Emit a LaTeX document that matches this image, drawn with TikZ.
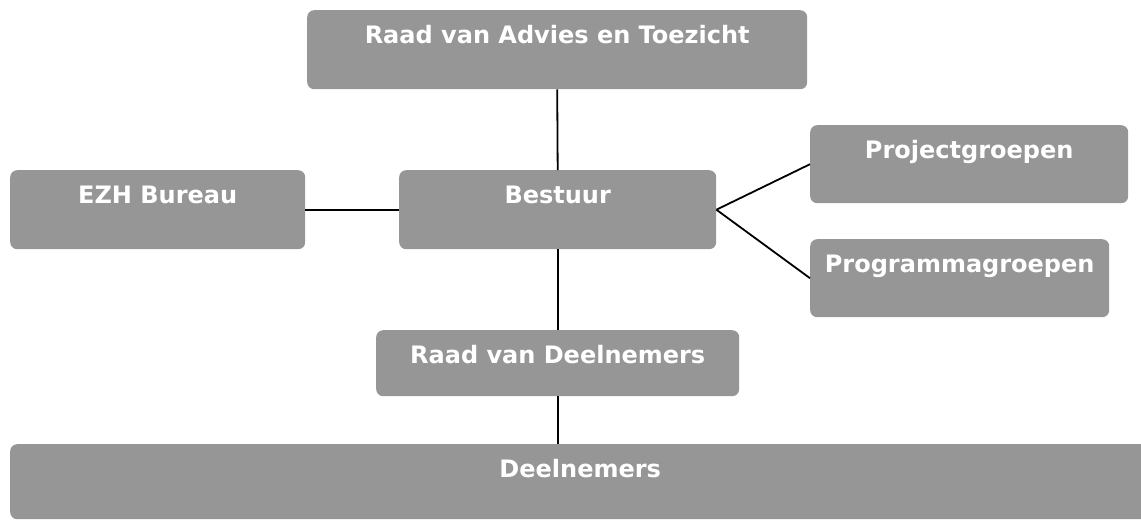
\documentclass[tikz,border=0pt]{standalone}
\usepackage{fontspec}
\setmainfont{DejaVu Sans}
\definecolor{boxgray}{HTML}{969696}
\tikzset{
  unit/.style={fill=boxgray, rounded corners=7pt, text=white, font=\bfseries\fontsize{24}{27}\selectfont,
    inner xsep=0pt, inner ysep=5pt, text height=28pt, text depth=41pt, anchor=north west},
  link/.style={line width=1.8pt, color=black}
}
\begin{document}
\begin{tikzpicture}[x=1pt, y=-1pt]
\useasboundingbox (0,0) rectangle (1141,520);
\node[unit, minimum width=500] (advies) at (307,10) {Raad van Advies en Toezicht};
\node[unit, minimum width=295] (bureau) at (10,170) {EZH Bureau};
\node[unit, minimum width=317] (bestuur) at (399,170) {Bestuur};
\node[unit, minimum width=318, text depth=40pt] (project) at (810,125) {Projectgroepen};
\node[unit, minimum width=299, text depth=40pt] (programma) at (810,239) {Programmagroepen};
\node[unit, minimum width=363, text depth=28pt] (raad) at (376,330) {Raad van Deelnemers};
\node[unit, minimum width=1140, text depth=37pt] (deelnemers) at (10,444) {Deelnemers};
\draw[link] (advies.south) -- (bestuur.north);
\draw[link] (bureau.east) -- (bestuur.west);
\draw[link] (bestuur.east) -- (project.west);
\draw[link] (bestuur.east) -- (programma.west);
\draw[link] (bestuur.south) -- (raad.north);
\draw[link] (raad.south) -- (deelnemers.north -| raad.south);
\end{tikzpicture}
\end{document}
